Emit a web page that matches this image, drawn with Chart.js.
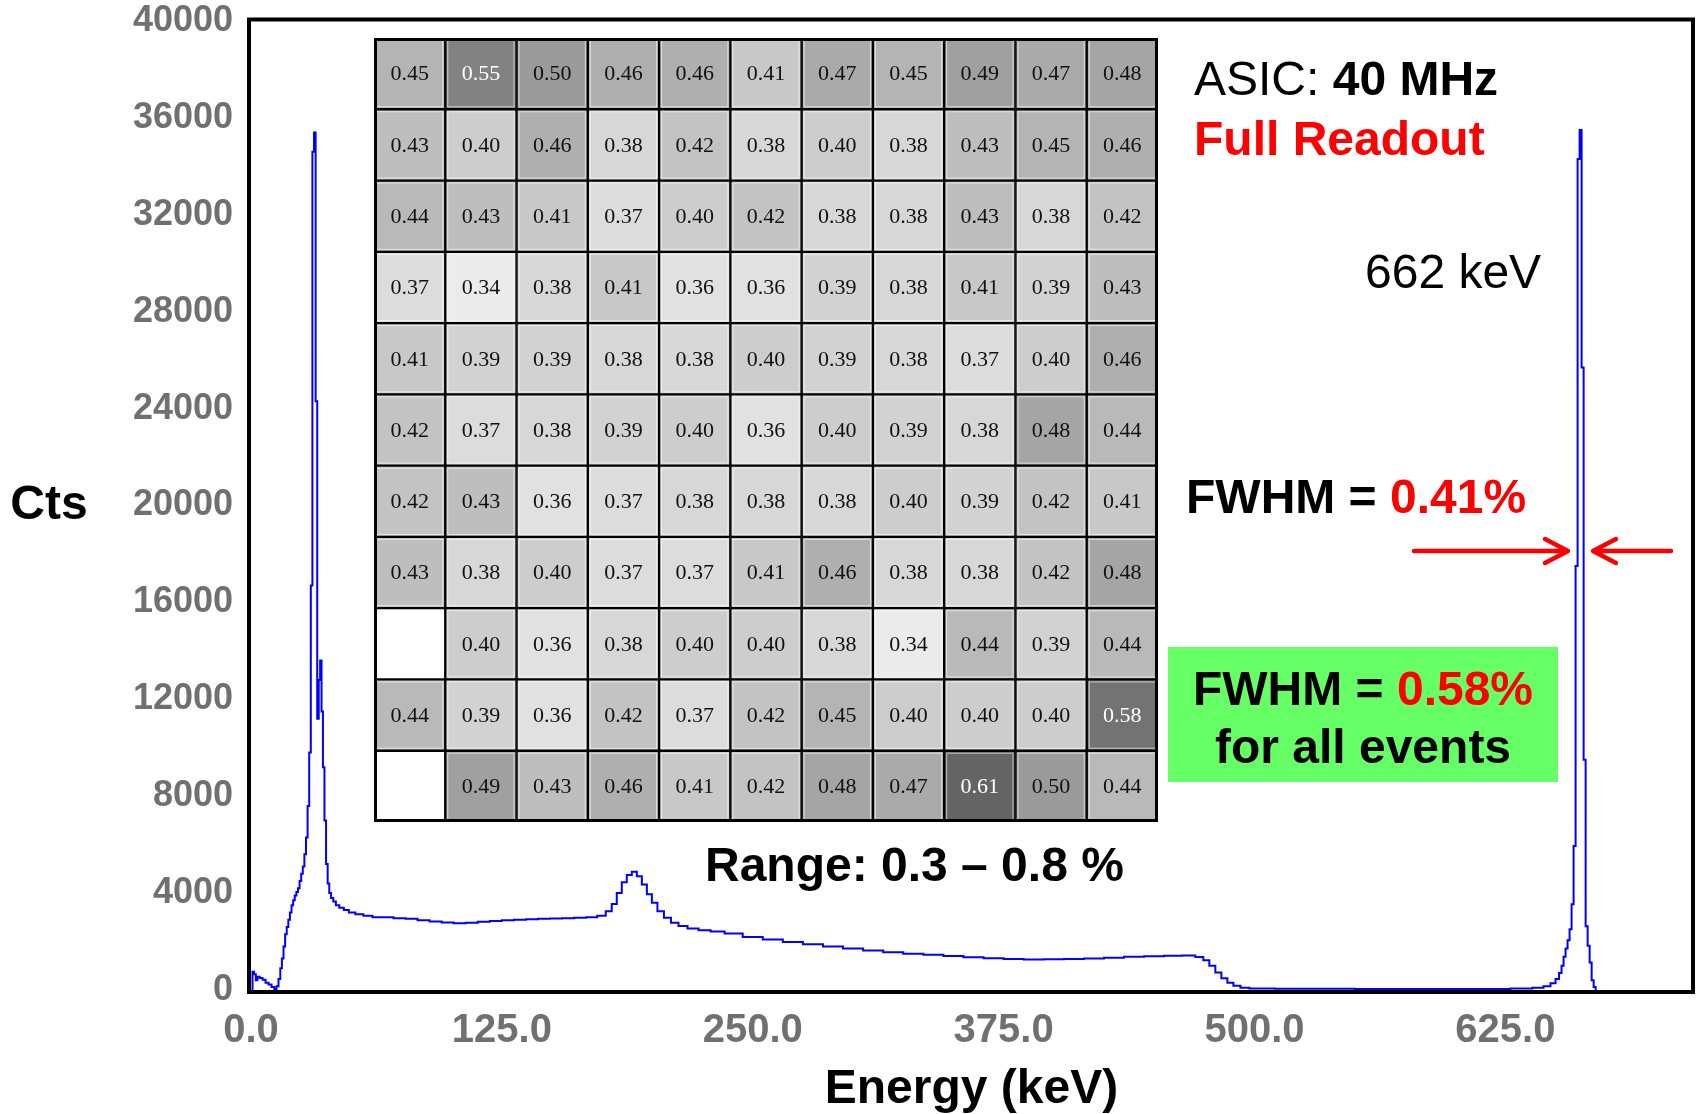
<!DOCTYPE html>
<html>
<head>
<meta charset="utf-8">
<script src="https://cdn.jsdelivr.net/npm/chart.js@4.4.1/dist/chart.umd.min.js"></script>
<style>
  html, body { margin: 0; padding: 0; background: #fff; }
  #wrap { position: relative; width: 1699px; height: 1114px; overflow: hidden; }
  #spectrum { position: absolute; left: 0; top: 0; }
  #pixelMap { position: absolute; left: 374px; top: 38px; }
</style>
</head>
<body>
<div id="wrap">
  <canvas id="spectrum" width="1699" height="1114"></canvas>
  <canvas id="pixelMap" width="784" height="784"></canvas>
</div>
<script>
// Cs-137 spectrum (bin energy in keV, counts)
const energyKeV = [
    0.5, 1.0, 2.0, 2.8, 3.6, 5.0, 6.5, 8.0, 9.5, 11.0, 12.2, 13.2, 14.2, 15.0, 15.8, 16.6,
    17.4, 18.2, 19.0, 19.8, 20.6, 21.4, 22.2, 23.0, 23.8, 24.6, 25.4, 26.2, 27.0, 27.8, 28.6,
    29.4, 30.2, 31.0, 31.8, 32.6, 33.4, 34.1, 34.8, 35.5, 36.2, 37.0, 37.8, 38.6, 39.4, 40.4,
    41.6, 43.0, 45.0, 47.5, 50.0, 54.0, 58.0, 63.0, 68.0, 74.0, 80.0, 86.0, 92.0, 98.0, 104.0,
    110.0, 116.0, 122.0, 128.0, 134.0, 140.0, 146.0, 152.0, 158.0, 164.0, 170.0, 175.0, 178.5,
    181.0, 183.5, 186.0, 188.5, 191.0, 193.5, 196.0, 198.5, 201.0, 204.0, 207.5, 211.0, 215.0,
    220.0, 226.0, 232.0, 240.0, 250.0, 260.0, 270.0, 280.0, 290.0, 300.0, 310.0, 320.0, 330.0,
    340.0, 350.0, 360.0, 370.0, 380.0, 390.0, 400.0, 410.0, 420.0, 430.0, 440.0, 450.0, 460.0,
    468.0, 473.0, 476.0, 479.0, 482.0, 485.0, 488.0, 491.0, 495.0, 500.0, 520.0, 540.0, 560.0,
    580.0, 600.0, 620.0, 635.0, 642.0, 646.0, 649.0, 651.0, 652.5, 653.5, 654.5, 655.5, 656.5,
    657.5, 658.5, 659.5, 660.5, 661.5, 662.5, 663.5, 664.5, 665.5, 666.5, 667.5, 668.5, 669.5,
    670.5
];
const counts = [
    0, 750, 650, 400, 550, 500, 420, 300, 230, 120, 20, 150, 450, 900, 1300, 1800,
    2300, 2600, 2900, 3200, 3500, 3700, 3900, 4050, 4200, 4500, 4800, 5100, 5600, 6300, 7600,
    9800, 16700, 34600, 35400, 24300, 11200, 12800, 13600, 11500, 9200, 7000, 5200, 4400, 4000, 3800,
    3650, 3500, 3400, 3300, 3200, 3130, 3060, 3000, 3000, 2960, 2940, 2880, 2830, 2790, 2760,
    2780, 2820, 2850, 2880, 2900, 2920, 2940, 2950, 2960, 2980, 3000, 3060, 3250,
    3550, 4000, 4450, 4750, 4880, 4700, 4350, 3950, 3600, 3250, 2980, 2780, 2640,
    2540, 2470, 2420, 2330, 2190, 2080, 1980, 1890, 1800, 1710, 1630, 1560, 1500,
    1450, 1400, 1350, 1310, 1280, 1260, 1270, 1280, 1300, 1330, 1370, 1390, 1410,
    1420, 1360, 1230, 1000, 720, 480, 300, 180, 90, 60, 50, 50, 45,
    40, 40, 45, 60, 90, 150, 280, 450, 700, 1000, 1370, 1710, 2050,
    2510, 3540, 5940, 17500, 34300, 35500, 25700, 9500, 2630, 1830, 1140, 400, 120,
    0
];
const xTickValues = [0, 125, 250, 375, 500, 625];
const yTickValues = [0, 4000, 8000, 12000, 16000, 20000, 24000, 28000, 32000, 36000, 40000];

// FWHM (%) per pixel, top row first; null = dead pixel
const pixelRows = [
    [0.45, 0.55, 0.50, 0.46, 0.46, 0.41, 0.47, 0.45, 0.49, 0.47, 0.48],
    [0.43, 0.40, 0.46, 0.38, 0.42, 0.38, 0.40, 0.38, 0.43, 0.45, 0.46],
    [0.44, 0.43, 0.41, 0.37, 0.40, 0.42, 0.38, 0.38, 0.43, 0.38, 0.42],
    [0.37, 0.34, 0.38, 0.41, 0.36, 0.36, 0.39, 0.38, 0.41, 0.39, 0.43],
    [0.41, 0.39, 0.39, 0.38, 0.38, 0.40, 0.39, 0.38, 0.37, 0.40, 0.46],
    [0.42, 0.37, 0.38, 0.39, 0.40, 0.36, 0.40, 0.39, 0.38, 0.48, 0.44],
    [0.42, 0.43, 0.36, 0.37, 0.38, 0.38, 0.38, 0.40, 0.39, 0.42, 0.41],
    [0.43, 0.38, 0.40, 0.37, 0.37, 0.41, 0.46, 0.38, 0.38, 0.42, 0.48],
    [null, 0.40, 0.36, 0.38, 0.40, 0.40, 0.38, 0.34, 0.44, 0.39, 0.44],
    [0.44, 0.39, 0.36, 0.42, 0.37, 0.42, 0.45, 0.40, 0.40, 0.40, 0.58],
    [null, 0.49, 0.43, 0.46, 0.41, 0.42, 0.48, 0.47, 0.61, 0.50, 0.44]
];
const pixelCols = ['1', '2', '3', '4', '5', '6', '7', '8', '9', '10', '11'];

const SANS = '"Liberation Sans", Arial, sans-serif';
const SERIF = '"Liberation Serif", "Times New Roman", serif';
const RED = '#ff0000';
const BIG = 'bold 48px ' + SANS;

// draws a line of text made of differently styled runs
const drawRuns = (ctx, runs, x, y, align) => {
    let total = 0;
    runs.forEach(r => { ctx.font = r.font; r.w = ctx.measureText(r.text).width; total += r.w; });
    let cx = align === 'center' ? x - total / 2 : x;
    ctx.textAlign = 'left';
    ctx.textBaseline = 'alphabetic';
    runs.forEach(r => {
        ctx.font = r.font;
        ctx.fillStyle = r.color;
        ctx.fillText(r.text, cx, y);
        cx += r.w;
    });
};

const drawArrow = (ctx, fromX, toX, y) => {
    const dir = Math.sign(toX - fromX);
    ctx.save();
    ctx.strokeStyle = RED;
    ctx.lineWidth = 4.5;
    ctx.lineCap = 'round';
    ctx.lineJoin = 'round';
    ctx.beginPath();
    ctx.moveTo(fromX, y);
    ctx.lineTo(toX - dir * 2, y);
    ctx.moveTo(toX - dir * 23, y - 12);
    ctx.lineTo(toX, y);
    ctx.lineTo(toX - dir * 23, y + 12);
    ctx.stroke();
    ctx.restore();
};

const notesPlugin = {
    id: 'notes',
    afterDraw(chart) {
        const ctx = chart.ctx;
        const a = chart.chartArea;
        ctx.save();
        // plot frame
        ctx.strokeStyle = '#000';
        ctx.lineWidth = 4;
        ctx.strokeRect(a.left - 2, a.top - 1.5, a.right - a.left + 3, a.bottom - a.top + 3.5);

        ctx.fillStyle = '#000';
        ctx.font = BIG;
        ctx.textAlign = 'center';
        ctx.textBaseline = 'middle';
        ctx.fillText('Cts', 49, 506);

        drawRuns(ctx, [
            { text: 'ASIC: ', font: '48px ' + SANS, color: '#000' },
            { text: '40 MHz', font: BIG, color: '#000' }
        ], 1194, 95, 'left');
        drawRuns(ctx, [{ text: 'Full Readout', font: BIG, color: RED }], 1194, 155, 'left');
        drawRuns(ctx, [{ text: '662 keV', font: '48px ' + SANS, color: '#000' }], 1365, 288, 'left');
        drawRuns(ctx, [
            { text: 'FWHM = ', font: BIG, color: '#000' },
            { text: '0.41%', font: BIG, color: RED }
        ], 1186, 513, 'left');

        drawArrow(ctx, 1414, 1568, 551);
        drawArrow(ctx, 1671, 1593, 551);

        ctx.fillStyle = '#66ff66';
        ctx.fillRect(1168, 647, 390, 135);
        drawRuns(ctx, [
            { text: 'FWHM = ', font: BIG, color: '#000' },
            { text: '0.58%', font: BIG, color: RED }
        ], 1363, 705, 'center');
        drawRuns(ctx, [{ text: 'for all events', font: BIG, color: '#000' }], 1363, 763, 'center');

        drawRuns(ctx, [{ text: 'Range: 0.3 \u2013 0.8 %', font: BIG, color: '#000' }], 705, 881, 'left');
        ctx.restore();
    }
};

new Chart(document.getElementById('spectrum'), {
    type: 'line',
    data: {
        datasets: [{
            label: 'Counts',
            data: energyKeV.map((e, i) => ({ x: e, y: counts[i] })),
            borderColor: '#0000ff',
            borderWidth: 2,
            pointRadius: 0,
            stepped: 'middle',
            fill: false
        }]
    },
    options: {
        responsive: false,
        animation: false,
        layout: { padding: { left: 0, top: 21, right: 7, bottom: 0 } },
        plugins: {
            legend: { display: false },
            tooltip: { enabled: false }
        },
        scales: {
            x: {
                type: 'linear',
                min: 0,
                max: 718,
                afterBuildTicks: s => { s.ticks = xTickValues.map(v => ({ value: v })); },
                afterFit: s => { s.height = 124; s.paddingLeft = 0; s.paddingRight = 0; },
                grid: { display: false, drawTicks: false },
                border: { display: false },
                ticks: {
                    autoSkip: false,
                    maxRotation: 0,
                    padding: 17,
                    color: '#707070',
                    font: { family: SANS, size: 40, weight: 'bold' },
                    callback: v => v.toFixed(1)
                },
                title: {
                    display: true,
                    text: 'Energy (keV)',
                    color: '#000',
                    padding: 0,
                    font: { family: SANS, size: 48, weight: 'bold', lineHeight: 1.0 }
                }
            },
            y: {
                min: 0,
                max: 40000,
                afterBuildTicks: s => { s.ticks = yTickValues.map(v => ({ value: v })); },
                afterFit: s => { s.width = 251; s.paddingTop = 0; s.paddingBottom = 0; },
                grid: { display: false, drawTicks: false },
                border: { display: false },
                ticks: {
                    padding: 18,
                    color: '#707070',
                    font: { family: SANS, size: 36, weight: 'bold' },
                    callback: v => String(v)
                }
            }
        }
    },
    plugins: [notesPlugin]
});

// grey level of a pixel: 0.3 % -> white, 0.8 % -> black
const grayFor = v => {
    if (v === null) return '#ffffff';
    const g = Math.round(255 - (v - 0.3) * 500);
    return `rgb(${g},${g},${g})`;
};

const cellPlugin = {
    id: 'cells',
    afterDatasetsDraw(chart) {
        const ctx = chart.ctx;
        ctx.save();
        ctx.textAlign = 'center';
        ctx.textBaseline = 'middle';
        ctx.font = '22px ' + SERIF;
        chart.data.datasets.forEach((ds, di) => {
            chart.getDatasetMeta(di).data.forEach((el, i) => {
                const v = ds.values[i];
                if (v === null) return;
                const p = el.getProps(['x', 'y', 'base', 'width'], true);
                const top = Math.min(p.y, p.base);
                const h = Math.abs(p.base - p.y);
                ctx.strokeStyle = 'rgba(255,255,255,0.6)';
                ctx.lineWidth = 1;
                ctx.strokeRect(p.x - p.width / 2 + 2.5, top + 2.5, p.width - 5, h - 5);
                ctx.fillStyle = v >= 0.55 ? '#ffffff' : '#111111';
                ctx.fillText(v.toFixed(2), p.x, top + h / 2 + 1);
            });
        });
        ctx.strokeStyle = '#000';
        ctx.lineWidth = 3;
        ctx.strokeRect(1.5, 1.5, chart.width - 3, chart.height - 3);
        ctx.restore();
    }
};

new Chart(document.getElementById('pixelMap'), {
    type: 'bar',
    data: {
        labels: pixelCols,
        datasets: pixelRows.slice().reverse().map((row, r) => ({
            label: 'row ' + (pixelRows.length - r),
            data: row.map(() => 1),
            values: row,
            backgroundColor: row.map(grayFor),
            borderColor: '#000',
            borderWidth: 1.5,
            borderSkipped: false,
            barPercentage: 1,
            categoryPercentage: 1
        }))
    },
    options: {
        responsive: false,
        animation: false,
        layout: { padding: 0 },
        plugins: {
            legend: { display: false },
            tooltip: { enabled: false }
        },
        scales: {
            x: { stacked: true, display: false },
            y: { stacked: true, display: false, min: 0, max: pixelRows.length }
        }
    },
    plugins: [cellPlugin]
});
</script>
</body>
</html>
